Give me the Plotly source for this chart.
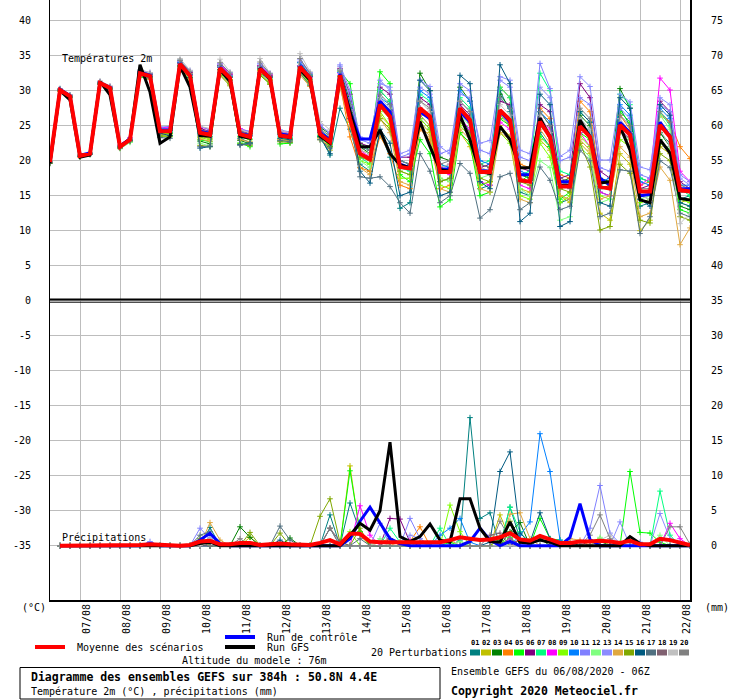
import plotly.graph_objects as go

# GEFS run 06/08/2020 06Z, 6-hourly steps, 0..384h
hours = list(range(0, 385, 6))
precip_hours = hours[1:]

day_labels = ["07/08", "08/08", "09/08", "10/08", "11/08", "12/08", "13/08", "14/08",
              "15/08", "16/08", "17/08", "18/08", "19/08", "20/08", "21/08", "22/08"]
day_hours = [18 + 24 * i for i in range(len(day_labels))]

temp_ticks = list(range(-35, 41, 5))
mm_ticks = list(range(0, 76, 5))

pert_names = ["01", "02", "03", "04", "05", "06", "07", "08", "09", "10",
              "11", "12", "13", "14", "15", "16", "17", "18", "19", "20"]
pert_colors = ["#008080", "#c0c000", "#008000", "#ff8000", "#00ff00", "#800080", "#00ff80",
               "#ff00ff", "#80ff00", "#0080ff", "#8080ff", "#80ff80", "#8c8cff", "#e0a840",
               "#80a800", "#005a80", "#507080", "#806070", "#c0c0c0", "#808080"]

# 2m temperature (°C)
t2m_mean = [19.8, 30.1, 29.2, 20.7, 21.0, 31.1, 30.4, 22.0, 23.0, 32.5, 32.1, 24.2, 24.2,
            33.8, 32.1, 24.0, 23.7, 33.2, 31.8, 23.8, 23.4, 33.1, 31.8, 23.6, 23.4,
            33.4, 31.8, 23.8, 22.7, 32.2, 26.0, 21.0, 20.2, 28.0, 26.3, 19.1, 18.9,
            27.5, 26.3, 18.4, 18.4, 27.5, 25.8, 18.4, 18.4, 27.2, 25.8, 17.2, 17.0,
            25.6, 23.4, 16.3, 16.3, 24.9, 23.4, 16.3, 16.0, 25.1, 23.7, 15.6, 15.6,
            25.1, 23.4, 15.8, 15.6]
t2m_control = [19.8, 30.2, 29.3, 20.8, 21.1, 31.1, 30.5, 22.1, 23.1, 32.6, 32.2, 24.4, 24.4,
               33.9, 32.2, 24.2, 23.9, 33.3, 31.9, 23.9, 23.6, 33.2, 31.9, 23.8, 23.6,
               33.5, 31.9, 24.0, 23.0, 32.4, 27.0, 23.1, 23.1, 28.5, 27.0, 19.5, 19.0,
               27.0, 26.0, 18.8, 18.8, 27.0, 25.5, 18.6, 18.5, 27.0, 25.5, 18.0, 18.0,
               25.5, 23.5, 17.0, 17.0, 25.0, 23.5, 17.5, 16.5, 25.5, 24.0, 15.0, 15.2,
               25.5, 23.5, 16.0, 16.0]
t2m_gfs = [19.6, 30.0, 28.7, 20.5, 20.8, 31.3, 29.4, 22.0, 23.1, 33.7, 29.8, 22.5, 23.4,
           33.5, 30.5, 23.6, 23.5, 33.0, 31.3, 23.5, 23.2, 33.2, 31.6, 23.5, 23.3,
           33.0, 31.5, 23.5, 22.5, 32.0, 27.0, 22.0, 22.0, 24.4, 21.0, 19.4, 19.0,
           25.6, 22.0, 18.7, 18.5, 26.5, 23.0, 18.4, 18.2, 24.9, 23.0, 19.0, 19.0,
           26.1, 23.4, 16.5, 16.5, 25.8, 23.4, 16.8, 17.0, 24.9, 21.5, 14.4, 14.0,
           23.0, 21.1, 14.6, 14.4]

t2m_p01 = [19.6, 30.3, 29.4, 20.8, 21.1, 31.2, 30.3, 22.1, 23.1, 32.6, 32.0, 24.0, 24.0,
           34.0, 32.3, 24.3, 23.4, 33.6, 32.0, 23.2, 22.6, 32.6, 31.4, 22.8, 22.9,
           32.8, 31.2, 23.5, 20.8, 27.5, 24.5, 19.5, 18.5, 24.0, 20.5, 13.2, 14.0,
           26.0, 24.5, 17.0, 17.5, 26.5, 24.0, 16.0, 16.5, 30.0, 27.0, 15.5, 15.0,
           24.0, 22.0, 14.0, 14.5, 26.0, 24.5, 15.5, 15.0, 27.5, 25.0, 13.5, 14.0,
           24.0, 22.5, 14.5, 15.0]
t2m_p02 = [19.7, 30.0, 29.0, 20.6, 21.2, 31.0, 30.6, 21.9, 22.8, 32.2, 31.9, 24.6, 24.4,
           33.2, 31.5, 23.5, 23.2, 32.8, 31.2, 24.1, 23.8, 33.4, 32.1, 23.9, 23.6,
           33.0, 31.5, 24.5, 23.2, 31.5, 27.0, 21.5, 21.0, 26.5, 25.0, 19.5, 19.0,
           25.5, 24.0, 17.5, 17.0, 24.0, 22.0, 16.5, 17.0, 25.0, 23.5, 16.0, 15.5,
           23.0, 21.5, 15.0, 14.0, 22.5, 21.0, 12.5, 11.5, 21.0, 19.5, 10.0, 11.5,
           22.0, 21.0, 14.0, 14.5]
t2m_p03 = [19.9, 30.2, 29.3, 20.9, 21.0, 31.3, 30.5, 22.2, 23.2, 32.8, 32.3, 23.8, 23.9,
           33.6, 31.8, 22.8, 22.4, 32.6, 31.5, 22.9, 22.4, 33.0, 32.0, 23.8, 23.2,
           34.0, 32.2, 24.8, 23.8, 33.0, 28.5, 22.0, 21.0, 30.0, 28.5, 20.0, 19.5,
           32.5, 30.0, 20.5, 20.0, 30.5, 28.5, 19.5, 19.0, 29.5, 27.5, 18.0, 17.5,
           27.0, 25.0, 17.0, 17.5, 26.5, 25.0, 17.5, 17.0, 30.3, 27.5, 17.5, 17.0,
           24.0, 22.0, 13.5, 13.0]
t2m_p04 = [19.8, 29.9, 29.1, 20.5, 20.9, 30.9, 30.2, 21.8, 22.9, 32.4, 32.2, 24.4, 24.5,
           33.9, 32.4, 24.5, 24.0, 33.0, 31.6, 24.3, 23.9, 32.8, 31.5, 24.2, 24.0,
           33.0, 31.0, 23.0, 22.0, 31.0, 23.4, 19.0, 18.5, 23.5, 21.0, 16.5, 16.0,
           24.5, 23.0, 16.0, 16.5, 27.0, 26.0, 19.0, 18.5, 30.5, 29.0, 19.5, 19.0,
           27.5, 26.0, 18.0, 17.5, 28.5, 27.0, 17.0, 16.5, 26.5, 24.5, 16.5, 17.0,
           26.5, 25.5, 22.0, 20.3]
t2m_p05 = [19.7, 30.1, 29.2, 20.7, 21.0, 31.1, 30.3, 21.8, 22.7, 32.0, 31.6, 23.6, 23.5,
           33.4, 31.9, 23.0, 22.7, 32.5, 31.0, 22.5, 22.0, 32.2, 31.0, 22.4, 22.5,
           32.5, 30.8, 23.5, 22.0, 32.8, 31.0, 22.5, 21.5, 32.7, 31.0, 18.0, 17.0,
           23.0, 21.0, 13.4, 14.4, 24.0, 22.5, 15.0, 15.5, 26.0, 25.0, 17.0, 18.0,
           23.5, 22.0, 14.5, 15.5, 24.0, 23.0, 16.0, 16.5, 27.0, 25.5, 15.0, 14.5,
           23.0, 21.5, 13.0, 12.5]
t2m_p06 = [19.8, 30.2, 29.3, 20.8, 21.1, 31.2, 30.5, 22.1, 23.0, 32.7, 32.4, 24.5, 24.6,
           34.1, 32.6, 24.6, 24.2, 33.5, 32.3, 24.2, 23.9, 33.6, 32.2, 24.0, 23.8,
           33.5, 32.0, 24.0, 23.0, 33.2, 29.5, 22.5, 22.0, 30.5, 29.5, 20.5, 20.5,
           29.0, 28.0, 19.0, 19.5, 28.0, 26.5, 19.0, 19.5, 28.5, 28.0, 19.0, 18.5,
           28.0, 27.0, 17.5, 18.0, 31.0, 29.0, 18.5, 17.5, 24.5, 23.0, 16.0, 16.5,
           28.5, 27.0, 17.0, 16.0]
t2m_p07 = [19.9, 30.0, 29.2, 20.6, 21.0, 31.0, 30.4, 22.0, 23.1, 32.5, 32.0, 24.1, 24.1,
           33.7, 32.0, 23.9, 23.5, 33.3, 32.0, 23.5, 23.1, 33.0, 31.7, 23.4, 23.3,
           33.2, 31.6, 23.6, 22.5, 32.0, 28.0, 20.5, 19.5, 30.0, 28.5, 19.0, 18.5,
           29.5, 28.5, 19.5, 19.0, 29.0, 27.5, 19.5, 20.0, 30.5, 29.0, 18.0, 18.5,
           32.5, 30.0, 18.5, 18.0, 27.0, 25.5, 16.5, 16.0, 29.5, 28.0, 17.5, 17.0,
           27.0, 25.0, 16.0, 15.0]
t2m_p08 = [19.8, 30.1, 29.1, 20.7, 21.0, 31.2, 30.6, 22.3, 23.3, 32.6, 32.1, 24.7, 24.8,
           33.8, 32.2, 24.8, 24.5, 33.8, 32.4, 24.6, 24.1, 33.5, 32.3, 24.3, 23.9,
           33.6, 32.0, 24.2, 23.1, 32.5, 26.5, 21.5, 20.5, 28.5, 27.0, 19.5, 19.0,
           27.5, 26.5, 18.5, 18.0, 26.0, 24.5, 17.0, 16.5, 25.5, 24.5, 16.5, 16.0,
           26.0, 24.5, 16.0, 16.5, 24.0, 22.0, 15.5, 15.0, 25.0, 24.0, 16.5, 17.5,
           31.8, 30.1, 18.5, 17.0]
t2m_p09 = [19.7, 30.0, 29.0, 20.6, 20.9, 31.0, 30.3, 21.9, 22.9, 32.3, 31.8, 24.0, 23.8,
           33.5, 31.7, 23.3, 23.0, 33.0, 31.6, 23.4, 23.0, 32.9, 31.6, 23.1, 23.0,
           32.7, 31.0, 23.3, 22.3, 31.5, 25.5, 20.0, 19.5, 27.0, 25.0, 17.5, 17.5,
           26.0, 24.5, 16.5, 16.0, 25.0, 23.5, 16.5, 17.0, 24.0, 22.5, 15.0, 14.5,
           22.5, 20.5, 14.0, 15.0, 23.5, 22.0, 15.0, 14.5, 23.0, 22.0, 14.0, 14.5,
           22.5, 21.5, 14.5, 14.0]
t2m_p10 = [19.8, 30.2, 29.3, 20.8, 21.1, 31.1, 30.5, 22.0, 23.0, 32.6, 32.3, 24.3, 24.3,
           34.0, 32.3, 24.2, 23.9, 33.4, 32.1, 23.9, 23.6, 33.4, 32.0, 23.7, 23.6,
           34.0, 32.3, 24.4, 23.2, 32.6, 27.5, 22.0, 21.5, 29.0, 28.0, 20.0, 19.5,
           30.0, 29.0, 19.5, 19.0, 30.0, 28.5, 20.0, 19.5, 29.0, 27.5, 18.5, 18.0,
           27.0, 25.5, 17.0, 16.5, 25.5, 24.0, 17.0, 17.5, 28.0, 26.5, 17.0, 16.5,
           27.5, 26.0, 16.5, 16.5]
t2m_p11 = [19.9, 30.1, 29.2, 20.7, 21.0, 31.1, 30.4, 22.2, 23.2, 32.7, 32.5, 24.8, 24.9,
           34.2, 32.8, 24.9, 24.4, 33.7, 32.2, 24.5, 24.2, 33.8, 32.5, 24.4, 24.1,
           34.2, 32.5, 25.0, 24.0, 33.5, 29.0, 23.0, 22.5, 31.5, 30.0, 20.5, 21.0,
           30.5, 29.5, 21.0, 21.5, 31.0, 30.0, 21.5, 21.0, 31.5, 30.5, 20.5, 20.0,
           33.9, 30.3, 20.0, 20.5, 29.0, 28.0, 19.0, 18.5, 27.5, 26.0, 18.0, 17.5,
           28.0, 27.0, 18.0, 17.0]
t2m_p12 = [19.8, 30.0, 29.1, 20.7, 21.0, 31.0, 30.2, 21.7, 22.6, 32.1, 31.7, 23.4, 23.4,
           33.3, 31.6, 22.5, 22.1, 32.4, 31.1, 22.6, 22.3, 32.5, 31.2, 22.9, 22.7,
           32.4, 30.7, 23.0, 21.5, 31.0, 26.0, 20.0, 19.0, 27.5, 26.0, 18.5, 18.0,
           27.0, 26.0, 17.5, 17.0, 26.5, 25.0, 17.5, 18.0, 27.0, 26.0, 16.0, 15.0,
           20.0, 19.0, 11.5, 12.0, 22.0, 20.5, 14.0, 14.5, 24.0, 23.0, 14.5, 15.0,
           26.5, 24.5, 14.0, 13.5]
t2m_p13 = [19.8, 30.2, 29.4, 20.8, 21.1, 31.3, 30.6, 22.1, 23.1, 32.9, 32.6, 24.6, 24.6,
           34.3, 32.9, 24.4, 24.0, 33.9, 32.6, 24.4, 24.0, 33.9, 32.4, 24.1, 23.8,
           34.5, 32.6, 25.2, 23.8, 33.7, 30.0, 23.4, 23.0, 31.0, 30.5, 21.0, 21.5,
           31.5, 30.6, 22.0, 21.0, 29.5, 29.0, 22.5, 22.9, 32.0, 31.5, 21.5, 21.0,
           30.5, 29.0, 20.6, 21.5, 32.0, 30.6, 20.1, 20.1, 29.5, 28.4, 19.1, 18.7,
           29.0, 28.0, 17.5, 16.5]
t2m_p14 = [19.7, 30.0, 29.0, 20.6, 20.9, 30.9, 30.1, 21.8, 22.8, 32.2, 31.6, 23.7, 23.6,
           33.1, 31.2, 23.1, 22.8, 32.3, 30.9, 23.0, 22.7, 32.4, 31.1, 23.0, 22.8,
           32.2, 30.6, 23.2, 21.5, 30.5, 25.0, 19.0, 18.0, 26.0, 24.0, 17.0, 16.5,
           25.0, 23.5, 16.0, 15.5, 24.5, 23.0, 16.0, 15.5, 24.0, 23.0, 14.5, 14.0,
           24.5, 22.5, 15.0, 14.5, 23.0, 21.5, 14.5, 15.0, 22.0, 20.5, 12.0, 12.5,
           19.1, 17.2, 8.0, 10.4]
t2m_p15 = [19.8, 30.1, 29.2, 20.7, 21.0, 31.0, 30.3, 21.9, 22.9, 32.3, 31.9, 23.5, 23.5,
           33.0, 31.0, 22.2, 22.0, 32.2, 30.7, 22.4, 22.2, 32.3, 30.9, 22.7, 22.6,
           33.0, 31.3, 23.8, 22.0, 32.0, 26.5, 20.5, 20.0, 26.0, 24.5, 18.5, 18.0,
           26.5, 25.0, 17.0, 17.5, 25.5, 24.0, 17.5, 17.0, 26.5, 25.0, 17.0, 16.5,
           25.0, 23.5, 16.0, 15.5, 22.5, 19.1, 10.1, 10.6, 19.5, 18.2, 11.5, 11.1,
           21.0, 20.0, 12.0, 11.5]
t2m_p16 = [19.8, 30.1, 29.1, 20.6, 21.0, 31.1, 30.4, 22.0, 22.9, 32.4, 32.0, 23.9, 23.6,
           33.5, 31.9, 21.8, 22.0, 33.0, 31.9, 22.3, 22.5, 33.2, 31.9, 23.2, 23.0,
           33.5, 32.0, 23.4, 21.0, 33.0, 27.5, 18.5, 16.8, 24.5, 22.5, 15.0, 15.5,
           31.5, 30.0, 15.0, 15.5, 32.2, 31.0, 17.0, 16.0, 33.7, 31.0, 11.3, 12.5,
           29.5, 28.0, 10.6, 11.3, 27.0, 25.5, 14.0, 13.5, 29.0, 27.5, 14.5, 13.5,
           28.0, 26.5, 14.0, 13.5]
t2m_p17 = [19.7, 30.0, 29.0, 20.6, 20.9, 30.9, 30.2, 21.8, 22.8, 32.2, 31.8, 23.3, 23.2,
           34.4, 32.4, 22.0, 22.1, 33.6, 32.1, 22.2, 22.4, 33.4, 32.0, 22.9, 22.7,
           32.5, 30.8, 23.0, 21.8, 31.5, 26.0, 17.7, 17.5, 17.7, 16.3, 14.0, 12.5,
           21.0, 18.5, 14.0, 15.0, 19.6, 18.2, 11.8, 13.0, 17.7, 18.2, 13.0, 14.0,
           19.1, 17.2, 13.0, 13.5, 21.5, 20.0, 12.0, 12.5, 18.7, 18.5, 9.6, 12.0,
           20.0, 19.0, 12.5, 12.0]
t2m_p18 = [19.8, 30.1, 29.2, 20.7, 21.0, 31.1, 30.4, 22.0, 23.0, 32.5, 32.2, 24.3, 24.4,
           33.9, 32.2, 24.1, 23.8, 33.3, 31.9, 23.9, 23.5, 33.2, 31.9, 23.7, 23.5,
           33.3, 31.8, 24.0, 22.8, 32.2, 26.0, 21.0, 20.5, 28.0, 26.5, 19.0, 19.0,
           27.5, 26.0, 18.5, 18.5, 27.0, 25.5, 18.5, 18.0, 27.0, 25.5, 17.0, 17.0,
           25.5, 23.5, 16.5, 16.0, 25.0, 23.5, 16.0, 16.0, 25.0, 23.5, 15.5, 15.5,
           25.0, 23.5, 15.5, 15.5]
t2m_p19 = [19.9, 30.3, 29.4, 20.9, 21.2, 31.4, 30.7, 22.3, 23.2, 33.0, 32.6, 24.5, 24.5,
           34.6, 32.9, 24.9, 24.6, 34.5, 32.7, 24.4, 24.0, 34.6, 32.5, 24.3, 24.0,
           35.3, 32.7, 25.6, 24.4, 33.0, 27.0, 21.5, 21.0, 29.0, 27.5, 19.5, 19.0,
           28.5, 27.0, 19.0, 19.5, 28.5, 27.0, 19.0, 18.5, 28.0, 26.5, 17.5, 17.0,
           26.5, 24.0, 16.5, 17.0, 26.0, 24.5, 16.5, 16.0, 26.0, 24.0, 15.0, 14.5,
           24.5, 22.0, 11.0, 12.5]
t2m_p20 = [19.8, 30.2, 29.3, 20.8, 21.1, 31.2, 30.5, 22.1, 23.1, 32.7, 32.4, 24.4, 24.3,
           34.3, 32.7, 24.4, 24.1, 34.0, 32.5, 24.2, 23.8, 34.1, 32.4, 24.0, 23.7,
           34.6, 32.4, 24.6, 23.5, 32.8, 28.0, 22.0, 21.5, 29.5, 28.0, 20.0, 19.5,
           28.5, 27.5, 19.5, 20.0, 28.5, 27.0, 19.5, 19.0, 29.0, 27.5, 18.0, 18.0,
           27.0, 25.0, 17.5, 17.0, 27.5, 26.0, 17.0, 16.5, 26.5, 25.0, 16.0, 16.0,
           27.0, 25.5, 16.5, 16.0]

# 6-hourly precipitation (mm), steps 1..64; members as {step: mm}, other steps are 0
rr_mean = [0, 0, 0, 0, 0, 0, 0, 0.1, 0.1, 0.2, 0.1, 0, 0, 0.1, 0.6, 0.7,
           0.2, 0.2, 0.4, 0.4, 0.1, 0.2, 0.3, 0.2, 0.1, 0.1, 0.4, 0.8, 0.2, 1.7, 1.7, 0.6,
           0.5, 0.5, 0.5, 0.5, 0.6, 0.5, 0.5, 0.8, 1.2, 1.0, 0.8, 0.9, 1.2, 1.8, 0.9, 0.7,
           1.4, 0.9, 0.4, 0.4, 0.6, 0.6, 0.7, 0.6, 0.4, 0.7, 0.2, 0.2, 1.0, 0.8, 0.4, 0.1]
rr_control = {10: 0.3, 15: 0.8, 16: 1.8, 17: 0.3, 30: 1.0, 31: 3.5, 32: 5.5, 33: 3.2, 34: 1.0,
              35: 0.3, 42: 0.6, 43: 2.5, 44: 0.8, 46: 0.6, 52: 1.2, 53: 6.0, 54: 0.9}
rr_gfs = {15: 0.3, 16: 0.5, 30: 1.5, 31: 3.2, 32: 2.2, 33: 5.0, 34: 14.8, 35: 1.3, 36: 0.6,
          37: 1.3, 38: 3.1, 39: 0.8, 40: 0.5, 41: 6.7, 42: 6.7, 43: 2.5, 44: 0.6, 45: 0.5,
          46: 3.4, 47: 0.5, 48: 0.4, 49: 0.8, 50: 0.5, 58: 1.3, 59: 0.3}
rr_p01 = {16: 2.6, 28: 4.4, 30: 6.1, 31: 2.0, 41: 0.8, 42: 18.3, 43: 3.9, 44: 4.7, 46: 5.5, 47: 1.0, 52: 0.5}
rr_p02 = {16: 1.0, 20: 1.2, 30: 11.4, 31: 1.5, 45: 4.4, 46: 1.0}
rr_p03 = {19: 2.7, 20: 1.2, 24: 1.1, 46: 2.0, 47: 3.3, 49: 1.0, 56: 0.6}
rr_p04 = {33: 0.5, 34: 1.0, 36: 0.6, 37: 2.7, 40: 0.8, 47: 0.8, 54: 0.6}
rr_p05 = {30: 10.7, 31: 2.0, 40: 0.5, 46: 1.2, 49: 3.9, 50: 1.0, 51: 0.8, 58: 10.6, 59: 1.9, 60: 1.8, 61: 0.5}
rr_p06 = {34: 3.9, 35: 3.8, 36: 0.5, 47: 1.0, 53: 0.6}
rr_p07 = {34: 2.5, 35: 0.5, 39: 2.5, 46: 5.5, 47: 2.0, 61: 7.8, 62: 1.5}
rr_p08 = {31: 5.7, 32: 1.5, 36: 0.8, 46: 1.0, 62: 3.2, 63: 1.0}
rr_p09 = {16: 0.8, 30: 2.0, 40: 5.8, 41: 2.0, 45: 1.0, 55: 1.0}
rr_p10 = {39: 1.5, 40: 2.5, 41: 3.9, 42: 0.5, 47: 1.5, 48: 3.4, 49: 16.0, 50: 10.6, 51: 0.8}
rr_p11 = {10: 0.6, 15: 2.5, 16: 1.0, 33: 3.2, 36: 3.9, 37: 1.0, 54: 2.5, 55: 8.6, 56: 1.8, 57: 0.3, 59: 0.5}
rr_p12 = {15: 0.8, 33: 1.0, 41: 0.6, 55: 1.2, 57: 0.4, 61: 1.5}
rr_p13 = {16: 1.2, 36: 1.5, 37: 1.0, 57: 3.4, 61: 4.6, 62: 1.0}
rr_p14 = {16: 3.3, 17: 0.8, 35: 0.6, 37: 0.5, 46: 4.5, 47: 4.7, 48: 1.0, 52: 1.0, 53: 0.8}
rr_p15 = {15: 1.0, 20: 1.9, 23: 1.8, 27: 4.2, 28: 6.7, 29: 0.5, 31: 2.5, 45: 1.0, 46: 3.5}
rr_p16 = {23: 0.8, 44: 0.5, 45: 10.6, 46: 13.4, 47: 1.8, 48: 0.5, 49: 4.7, 50: 1.0}
rr_p17 = {15: 1.5, 16: 2.0, 23: 2.8, 24: 0.8, 28: 2.5, 31: 1.0}
rr_p18 = {28: 2.5, 29: 0.6, 34: 1.0, 44: 1.5, 45: 1.8}
rr_p19 = {16: 1.0, 33: 0.5, 40: 1.0, 55: 0.8, 56: 1.5}
rr_p20 = {15: 0.5, 19: 1.0, 28: 2.5, 45: 3.5, 46: 1.0, 54: 1.5, 55: 4.4, 56: 1.0, 62: 2.7, 63: 2.7, 64: 0.2}

t2m_perts = [t2m_p01, t2m_p02, t2m_p03, t2m_p04, t2m_p05, t2m_p06, t2m_p07, t2m_p08, t2m_p09, t2m_p10,
             t2m_p11, t2m_p12, t2m_p13, t2m_p14, t2m_p15, t2m_p16, t2m_p17, t2m_p18, t2m_p19, t2m_p20]
rr_perts = [rr_p01, rr_p02, rr_p03, rr_p04, rr_p05, rr_p06, rr_p07, rr_p08, rr_p09, rr_p10,
            rr_p11, rr_p12, rr_p13, rr_p14, rr_p15, rr_p16, rr_p17, rr_p18, rr_p19, rr_p20]

FONT = "DejaVu Sans Mono"
GRID = "#bdbdbd"


def rr_series(d):
    return [d.get(i, 0.0) for i in range(1, 65)]


def px(x):
    # pixel -> paper coordinates (plot area is x 50..690, y 0..600)
    return (x - 50) / 640


def py(y):
    return (600 - y) / 600


fig = go.Figure()

# perturbations: temperature then precipitation
for col, t2m, rr in zip(pert_colors, t2m_perts, rr_perts):
    fig.add_trace(go.Scatter(
        x=hours, y=t2m, mode="lines+markers", yaxis="y",
        line=dict(color=col, width=1),
        marker=dict(symbol="cross-thin", size=4, line=dict(color=col, width=1)),
        hoverinfo="skip"))
    fig.add_trace(go.Scatter(
        x=precip_hours, y=rr_series(rr), mode="lines+markers", yaxis="y2",
        line=dict(color=col, width=1),
        marker=dict(symbol="cross-thin", size=4, line=dict(color=col, width=1)),
        hoverinfo="skip"))

for t2m, rr, col, w in [(t2m_control, rr_series(rr_control), "#0000ff", 3),
                        (t2m_gfs, rr_series(rr_gfs), "#000000", 3),
                        (t2m_mean, rr_mean, "#ff0000", 4)]:
    fig.add_trace(go.Scatter(x=hours, y=t2m, mode="lines", yaxis="y",
                             line=dict(color=col, width=w), hoverinfo="skip"))
    fig.add_trace(go.Scatter(x=precip_hours, y=rr, mode="lines", yaxis="y2",
                             line=dict(color=col, width=w), hoverinfo="skip"))

shapes = [
    # separator between the two panels
    dict(type="line", xref="paper", yref="paper", x0=0, x1=1, y0=py(299.5), y1=py(299.5),
         line=dict(color="black", width=2)),
    dict(type="line", xref="paper", yref="paper", x0=0, x1=1, y0=py(302.2), y1=py(302.2),
         line=dict(color="black", width=1)),
    # legend samples
    dict(type="line", xref="paper", yref="paper", x0=px(35), x1=px(65), y0=py(647), y1=py(647),
         line=dict(color="#ff0000", width=4)),
    dict(type="line", xref="paper", yref="paper", x0=px(225), x1=px(255), y0=py(637), y1=py(637),
         line=dict(color="#0000ff", width=4)),
    dict(type="line", xref="paper", yref="paper", x0=px(225), x1=px(255), y0=py(647), y1=py(647),
         line=dict(color="#000000", width=4)),
    # title box
    dict(type="rect", xref="paper", yref="paper", x0=px(20), x1=px(440), y0=py(667.5), y1=py(699),
         line=dict(color="black", width=1), fillcolor="rgba(0,0,0,0)"),
]

annotations = []


def note(text, x, y, size=10, xanchor="left", **kw):
    annotations.append(dict(text=text, xref="paper", yref="paper", x=px(x), y=py(y),
                            xanchor=xanchor, yanchor="middle", showarrow=False,
                            font=dict(family=FONT, size=size, color="black"), **kw))


note("Températures 2m", 60, 58.5)
note("Précipitations", 60, 537)
note("(°C)", 20, 607)
note("(mm)", 703, 607)
note("Moyenne des scénarios", 75, 647)
note("Run de contrôle", 265, 637)
note("Run GFS", 265, 647)
note("Altitude du modele : 76m", 180, 660)
note("20 Perturbations", 369, 652)
note("<b>Diagramme des ensembles GEFS sur 384h : 50.8N 4.4E</b>", 29, 677, size=11.5)
note("Température 2m (°C) , précipitations (mm)", 29, 691)
note("Ensemble GEFS du 06/08/2020 - 06Z", 449, 671)
note("<b>Copyright 2020 Meteociel.fr</b>", 449, 691, size=11.5)

for i, (name, col) in enumerate(zip(pert_names, pert_colors)):
    x0 = 470 + 11 * i
    shapes.append(dict(type="rect", xref="paper", yref="paper", x0=px(x0), x1=px(x0 + 10),
                       y0=py(655.5), y1=py(649.5), line=dict(width=0), fillcolor=col))
    note("<b>" + name + "</b>", x0 + 5, 643, size=7, xanchor="center")

for h, lab in zip(day_hours, day_labels):
    annotations.append(dict(text=lab, x=h, xref="x", xshift=6, y=py(602), yref="paper",
                            xanchor="center", yanchor="top", textangle=-90, showarrow=False,
                            font=dict(family=FONT, size=10, color="black")))

fig.update_layout(
    width=740, height=700,
    margin=dict(l=50, r=50, t=0, b=100, pad=0),
    paper_bgcolor="white", plot_bgcolor="white",
    showlegend=False,
    font=dict(family=FONT, size=10, color="black"),
    xaxis=dict(range=[0, 384], tickvals=day_hours, showticklabels=False, ticks="",
               showgrid=True, gridcolor=GRID, gridwidth=1, zeroline=False,
               showline=True, linecolor="black", linewidth=2),
    yaxis=dict(range=[-42.757, 42.957], tickvals=temp_ticks, ticktext=[str(v) for v in temp_ticks],
               ticks="", ticklabelstandoff=16, showgrid=True, gridcolor=GRID, gridwidth=1,
               zeroline=False, showline=True, linecolor="black", linewidth=1,
               tickfont=dict(family=FONT, size=10)),
    yaxis2=dict(range=[-7.757, 77.957], tickvals=mm_ticks, ticktext=[str(v) for v in mm_ticks],
                overlaying="y", side="right", ticks="", ticklabelstandoff=17, showgrid=False,
                zeroline=False, showline=True, linecolor="black", linewidth=2,
                tickfont=dict(family=FONT, size=10)),
    shapes=shapes,
    annotations=annotations,
)

# the page is photographed at 740x700: drop the browser's default body margin
fig.write_html("out.html", config={"displayModeBar": False},
               post_script="document.body.style.margin='0';")
